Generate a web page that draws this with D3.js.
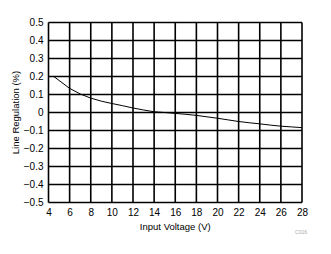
<!DOCTYPE html>
<html>
<head>
<meta charset="utf-8">
<script src="https://cdn.jsdelivr.net/npm/d3@7"></script>
<style>
  body { margin: 0; background: #fff; }
  svg { display: block; }
  text { font-family: "Liberation Sans", Arial, sans-serif; fill: #000; }
</style>
</head>
<body>
<script>
var width = 331;
var height = 254;

// data
var voltage = [4.5, 5, 6, 7, 8, 9, 10, 11, 12, 13, 14, 15, 16, 17, 18, 19, 20, 21, 22, 23, 24, 25, 26, 27, 28];
var regulation = [0.2, 0.178, 0.134, 0.103, 0.08, 0.063, 0.05, 0.038, 0.025, 0.014, 0.004, 0, -0.005, -0.01, -0.016, -0.024, -0.032, -0.041, -0.05, -0.057, -0.063, -0.07, -0.076, -0.08, -0.084];
var xTicks = [4, 6, 8, 10, 12, 14, 16, 18, 20, 22, 24, 26, 28];
var yTicks = [-0.5, -0.4, -0.3, -0.2, -0.1, 0, 0.1, 0.2, 0.3, 0.4, 0.5];

var svg = d3.select("body").append("svg")
    .attr("width", width)
    .attr("height", height);

var margin = { top: 22.5, left: 48.5, right: 29, bottom: 51.5 };
var plotWidth = width - margin.left - margin.right;
var plotHeight = height - margin.top - margin.bottom;

var plot = svg.append("g")
    .attr("transform", "translate(" + margin.left + "," + margin.top + ")");

var x = d3.scaleLinear().domain([4, 28]).range([0, plotWidth]);
var y = d3.scaleLinear().domain([-0.5, 0.5]).range([plotHeight, 0]);

// grid
plot.append("g").selectAll("line").data(xTicks).join("line")
    .attr("x1", d => x(d)).attr("x2", d => x(d))
    .attr("y1", 0).attr("y2", plotHeight)
    .attr("stroke", "#000").attr("stroke-width", 1.6);
plot.append("g").selectAll("line").data(yTicks).join("line")
    .attr("x1", 0).attr("x2", plotWidth)
    .attr("y1", d => y(d)).attr("y2", d => y(d))
    .attr("stroke", "#000").attr("stroke-width", 1.6);

// axes (labels only)
var xAxis = d3.axisBottom(x).tickValues(xTicks).tickSize(0).tickPadding(6).tickFormat(d3.format("d"));
var yAxis = d3.axisLeft(y).tickValues(yTicks).tickSize(0).tickPadding(5).tickFormat(d => d === 0 ? "0" : d3.format(".1f")(d));

var gx = plot.append("g").attr("transform", "translate(0," + plotHeight + ")").call(xAxis);
var gy = plot.append("g").call(yAxis);
[gx, gy].forEach(function (g) {
  g.select(".domain").remove();
  g.selectAll("text").attr("font-size", 10).attr("font-family", "\"Liberation Sans\", Arial, sans-serif").attr("fill", "#000");
});

// curve
var line = d3.line().x((d, i) => x(voltage[i])).y(d => y(d));
plot.append("path")
    .datum(regulation)
    .attr("d", line)
    .attr("fill", "none")
    .attr("stroke", "#000")
    .attr("stroke-width", 1);

// titles
svg.append("text")
    .attr("x", margin.left + plotWidth / 2)
    .attr("y", 229.5)
    .attr("text-anchor", "middle")
    .attr("font-size", 9.5)
    .text("Input Voltage (V)");

svg.append("text")
    .attr("transform", "translate(19," + (margin.top + plotHeight / 2) + ") rotate(-90)")
    .attr("text-anchor", "middle")
    .attr("font-size", 9.5)
    .text("Line Regulation (%)");

svg.append("text")
    .attr("x", 307)
    .attr("y", 234)
    .attr("text-anchor", "end")
    .attr("font-size", 5)
    .style("fill", "#aaa")
    .text("C016");
</script>
</body>
</html>
